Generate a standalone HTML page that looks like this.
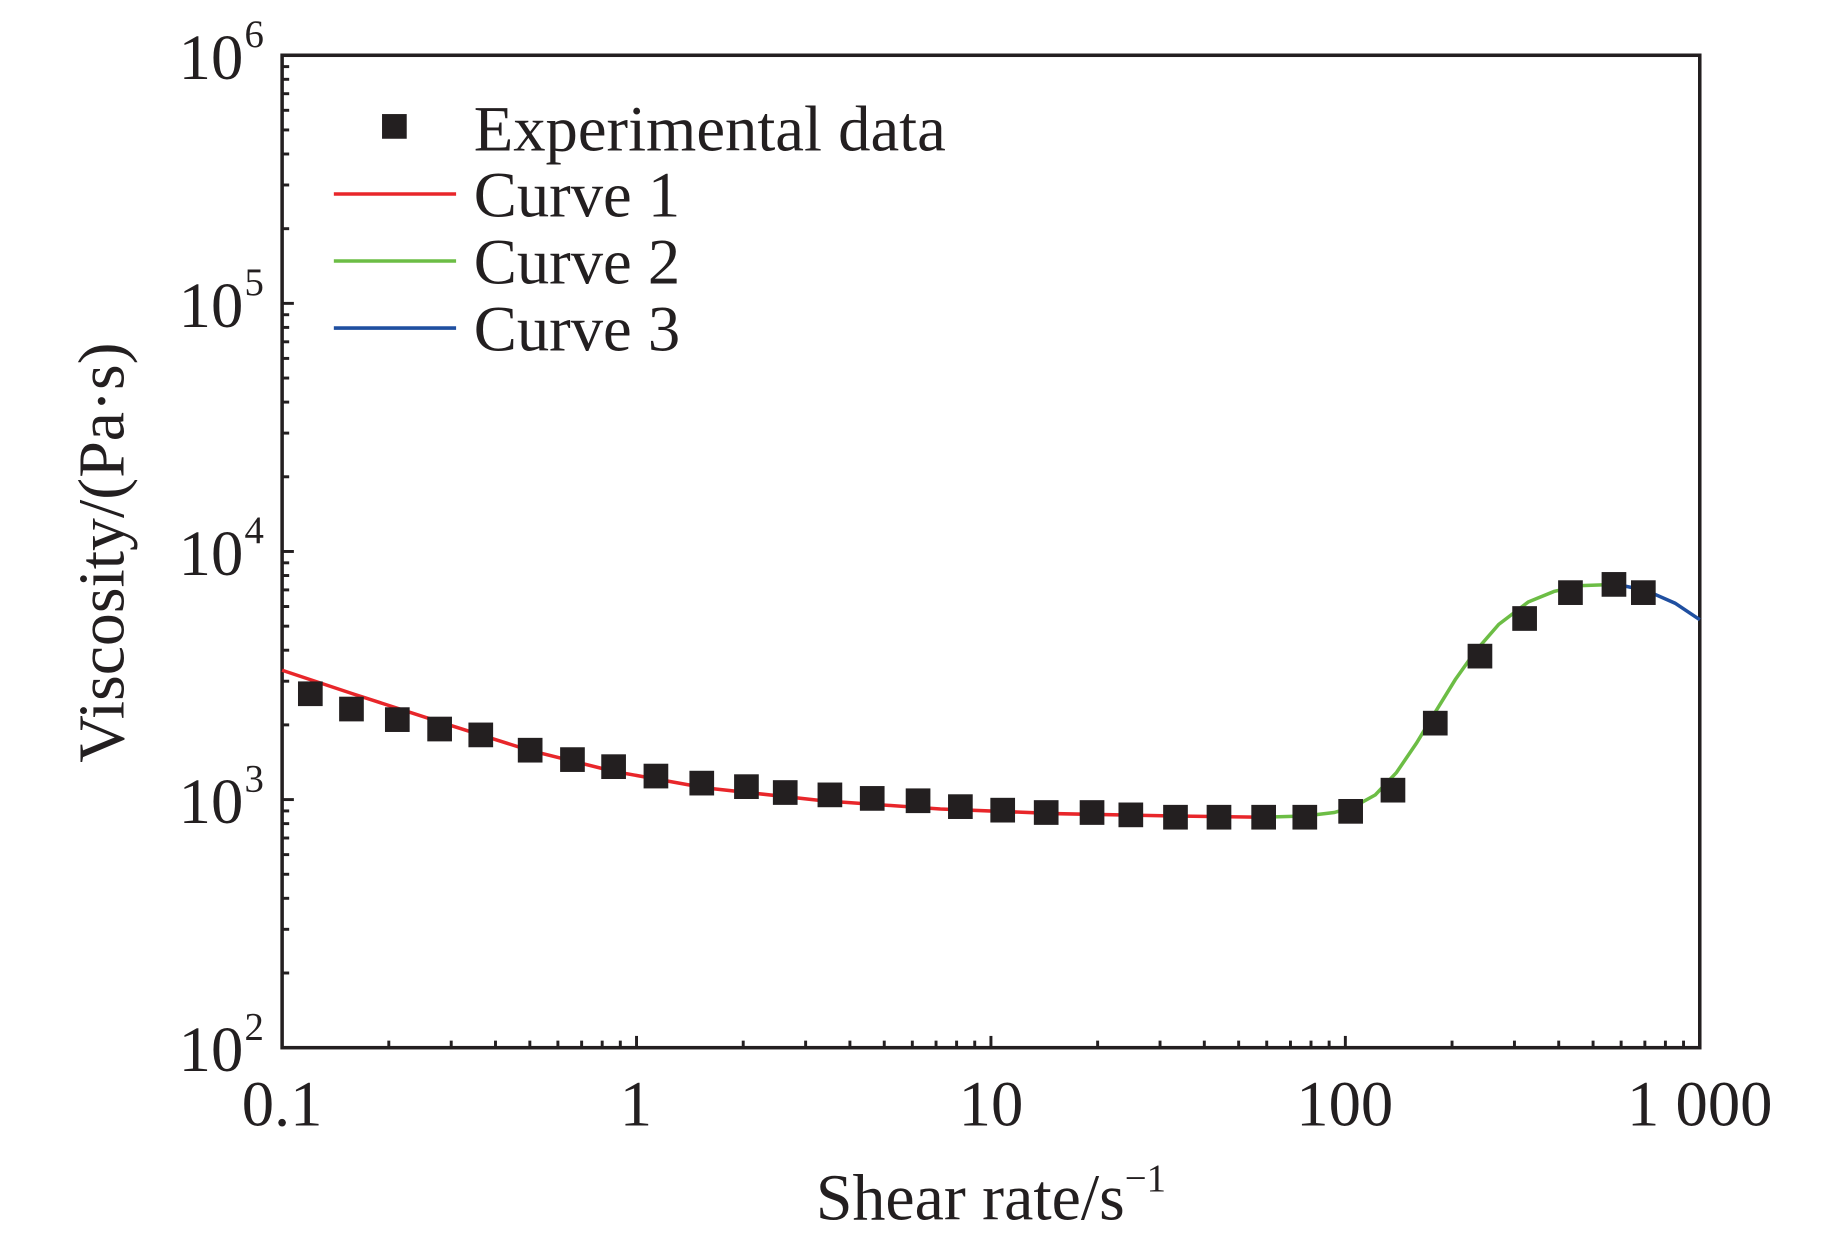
<!DOCTYPE html>
<html><head><meta charset="utf-8"><style>
html,body{margin:0;padding:0;background:#fff;}
svg{display:block;}
text{font-family:"Liberation Serif",serif;fill:#231f20;}
</style></head><body>
<svg width="1842" height="1237" viewBox="0 0 1567 1052" preserveAspectRatio="none" xmlns="http://www.w3.org/2000/svg">
<g id="ticks" stroke="#231f20" stroke-width="2.5"></g>
<rect x="240" y="47" width="1206" height="844" fill="none" stroke="#231f20" stroke-width="3"/>
<polyline fill="none" stroke="#e8262a" stroke-width="3" points="240,570 300,590 374,614 450,638 522,656 600,670 700,681 800,688 900,692 1000,694 1075,695"/>
<polyline fill="none" stroke="#6cbd45" stroke-width="3" points="1075,695 1110,694 1135,691 1152,686 1170,676 1188,657 1205,632 1222,604 1238,578 1255,554 1275,531 1300,512 1322,503 1345,498 1375,497"/>
<polyline fill="none" stroke="#1f4fa0" stroke-width="3" points="1375,497 1400,502 1425,513 1446,527"/>
<g fill="#231f20" id="pts"></g>
<rect x="325" y="97" width="21" height="21" fill="#231f20"/>
<line x1="284" y1="165" x2="388" y2="165" stroke="#e8262a" stroke-width="3"/>
<line x1="284" y1="222" x2="388" y2="222" stroke="#6cbd45" stroke-width="3"/>
<line x1="284" y1="279" x2="388" y2="279" stroke="#1f4fa0" stroke-width="3"/>
<g font-size="55">
<text x="403" y="128">Experimental data</text>
<text x="403" y="184">Curve 1</text>
<text x="403" y="241">Curve 2</text>
<text x="403" y="298">Curve 3</text>
</g>
<g font-size="55" text-anchor="middle">
<text x="240" y="957">0.1</text>
<text x="541" y="957">1</text>
<text x="843" y="957">10</text>
<text x="1144" y="957">100</text>
<text x="1446" y="957">1 000</text>
</g>
<g font-size="55" text-anchor="end">
<text x="207" y="911">10</text><text x="207" y="700">10</text><text x="207" y="489">10</text><text x="207" y="278">10</text><text x="207" y="67">10</text>
</g>
<g font-size="33">
<text x="208" y="884">2</text><text x="208" y="673">3</text><text x="208" y="462">4</text><text x="208" y="251">5</text><text x="208" y="40">6</text>
</g>
<text x="843" y="1037" font-size="56" text-anchor="middle">Shear rate/s<tspan font-size="33" dy="-24">−1</tspan></text>
<text transform="translate(105,470) rotate(-90)" font-size="56" text-anchor="middle">Viscosity/(Pa·s)</text>
</svg>
<script>
var ns="http://www.w3.org/2000/svg";
var t=document.getElementById("ticks");
function ln(x1,y1,x2,y2){var l=document.createElementNS(ns,"line");l.setAttribute("x1",x1);l.setAttribute("y1",y1);l.setAttribute("x2",x2);l.setAttribute("y2",y2);t.appendChild(l);}
var L=240,R=1446,T=47,B=891,dx=(R-L)/4,dy=(B-T)/4;
for(var d=0;d<4;d++){for(var k=1;k<10;k++){var len=k==1?10:6;var x=L+dx*(d+Math.log10(k));var y=B-dy*(d+Math.log10(k));if(k>1||d>0){ln(x,B,x,B-len);ln(L,y,L+len,y);}}}
var P=[[264,590],[299,603],[338,612],[374,620],[409,625],[451,638],[487,646],[522,652],[558,660],[597,666],[635,669],[668,674],[706,676],[742,679],[781,681],[817,686],[853,689],[890,691],[929,691],[962,693],[1000,695],[1037,695],[1075,695],[1110,695],[1149,690],[1185,672],[1221,615],[1259,558],[1297,526],[1336,504],[1373,497],[1398,504]];
var g=document.getElementById("pts");
P.forEach(function(p){var r=document.createElementNS(ns,"rect");r.setAttribute("x",p[0]-10.5);r.setAttribute("y",p[1]-10.5);r.setAttribute("width",21);r.setAttribute("height",21);g.appendChild(r);});
</script>
</body></html>
